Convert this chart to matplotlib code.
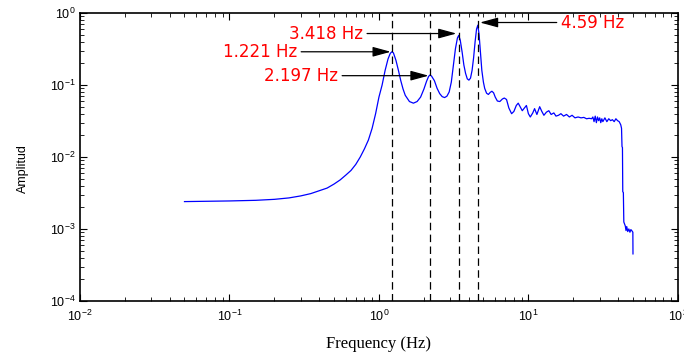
import numpy as np
import matplotlib
matplotlib.use('Agg')
import matplotlib.pyplot as plt
from matplotlib.ticker import LogLocator, NullFormatter

plt.rcParams['font.family'] = ['Liberation Sans', 'DejaVu Sans']
plt.rcParams['mathtext.default'] = 'regular'

# spectrum (Hz, amplitude)
freq = [0.05, 0.07, 0.1, 0.15, 0.2, 0.25, 0.3, 0.35, 0.4, 0.45, 0.5, 0.55, 0.6, 0.65,
        0.7, 0.75, 0.8, 0.85, 0.9, 0.95, 1.0, 1.05, 1.1, 1.15, 1.19, 1.221, 1.25, 1.3,
        1.35, 1.4, 1.45, 1.5, 1.6, 1.7, 1.8, 1.9, 2.0, 2.08, 2.15, 2.197, 2.25, 2.35,
        2.45, 2.55, 2.65, 2.75, 2.85, 2.95, 3.05, 3.15, 3.25, 3.35, 3.418, 3.5, 3.6,
        3.7, 3.8, 3.9, 4.0, 4.1, 4.2, 4.3, 4.4, 4.5, 4.59, 4.68, 4.78, 4.88, 5.0, 5.1,
        5.25, 5.4, 5.55, 5.7, 5.85, 6.0, 6.2, 6.44, 6.7, 6.9, 7.14, 7.4, 7.72, 8.0,
        8.3, 8.55, 8.8, 9.1, 9.4, 9.7, 10.0, 10.3, 10.7, 11.0, 11.4, 11.9, 12.3, 12.7,
        13.2, 13.7, 14.2, 14.8, 15.3, 15.9, 16.5, 17.2, 18.0, 18.8, 19.6, 20.5, 21.5,
        22.5, 23.5, 24.5, 25.5, 26.5, 27.0, 27.5, 28.0, 28.5, 29.0, 29.5, 30.0, 30.5,
        31.0, 31.5, 32.5, 33.5, 34.5, 35.5, 36.5, 37.5, 38.5, 39.5, 40.5, 41.5, 42.0,
        42.3, 42.6, 42.8, 43.2, 43.5, 44.5, 45.0, 45.5, 46.2, 47.0, 47.8, 48.5, 49.5,
        50.0, 50.1]
amp = [0.00240, 0.00242, 0.00245, 0.00250, 0.00258, 0.00270, 0.00288, 0.0031, 0.0034,
       0.0037, 0.0042, 0.0048, 0.0056, 0.0065, 0.0079, 0.0100, 0.0130, 0.0172, 0.025,
       0.040, 0.068, 0.10, 0.16, 0.23, 0.275, 0.29, 0.28, 0.22, 0.16, 0.115, 0.088,
       0.072, 0.059, 0.056, 0.059, 0.068, 0.088, 0.112, 0.132, 0.138, 0.133, 0.115,
       0.090, 0.076, 0.069, 0.067, 0.070, 0.080, 0.11, 0.19, 0.32, 0.45, 0.49, 0.42,
       0.29, 0.19, 0.145, 0.122, 0.117, 0.125, 0.16, 0.24, 0.40, 0.60, 0.68, 0.50,
       0.28, 0.16, 0.11, 0.09, 0.077, 0.074, 0.079, 0.082, 0.078, 0.068, 0.060, 0.059,
       0.064, 0.066, 0.063, 0.048, 0.040, 0.043, 0.052, 0.056, 0.050, 0.044, 0.048,
       0.052, 0.040, 0.036, 0.041, 0.047, 0.039, 0.050, 0.043, 0.038, 0.042, 0.044,
       0.039, 0.041, 0.037, 0.038, 0.040, 0.037, 0.039, 0.036, 0.038, 0.035, 0.036,
       0.035, 0.0355, 0.034, 0.0345, 0.034, 0.036, 0.031, 0.037, 0.030, 0.036, 0.032,
       0.035, 0.030, 0.034, 0.031, 0.035, 0.031, 0.034, 0.032, 0.033, 0.031, 0.034,
       0.032, 0.031, 0.028, 0.025, 0.014, 0.0135, 0.0033, 0.0032, 0.00125, 0.00110,
       0.00095, 0.00108, 0.00092, 0.00100, 0.00090, 0.00098, 0.00093, 0.00090, 0.00045]

peaks = [1.221, 2.197, 3.418, 4.59]
labels = ['1.221 Hz', '2.197 Hz', '3.418 Hz', '4.59 Hz']
arrow_tip = [(1.2, 0.29), (2.15, 0.135), (3.3, 0.52), (4.74, 0.74)]
text_pos = [(0.283, 0.29), (0.532, 0.135), (0.781, 0.52), (16.5, 0.74)]
text_ha = ['right', 'right', 'right', 'left']

fig = plt.figure(figsize=(6.84, 3.54), dpi=100)
ax = fig.add_axes([0.117, 0.150, 0.874, 0.813])

ax.loglog(freq, amp, color='#0000ff', lw=0.9)
for f in peaks:
    ax.axvline(f, color='k', lw=0.9, ls=(0, (6, 3.5)))

for lab, tip, pos, ha in zip(labels, arrow_tip, text_pos, text_ha):
    ax.annotate(lab, xy=tip, xytext=pos, ha=ha, va='center', color='red',
                fontsize=12, family=['DejaVu Sans'],
                arrowprops=dict(arrowstyle='-|>,head_length=1.1,head_width=0.3',
                                color='k', lw=0.9, mutation_scale=10,
                                shrinkA=1, shrinkB=0))

ax.set_xlim(1e-2, 1e2)
ax.set_ylim(1e-4, 1e0)
ax.xaxis.set_minor_locator(LogLocator(base=10, subs=np.arange(2, 10), numticks=20))
ax.yaxis.set_minor_locator(LogLocator(base=10, subs=np.arange(2, 10), numticks=20))
ax.xaxis.set_minor_formatter(NullFormatter())
ax.yaxis.set_minor_formatter(NullFormatter())
ax.tick_params(which='both', direction='in', top=True, right=True, labelsize=9)
ax.tick_params(which='major', length=5, width=0.8)
ax.tick_params(which='minor', length=3, width=0.6)
ax.tick_params(axis='x', pad=6)
ax.tick_params(axis='y', pad=3)
for s in ax.spines.values():
    s.set_linewidth(1.2)

ax.set_xlabel('Frequency (Hz)', family='Liberation Serif', fontsize=12, labelpad=8)
ax.set_ylabel('Amplitud', fontsize=9)
ax.yaxis.set_label_coords(-0.085, 0.46)

fig.savefig('out.png', dpi=100)
